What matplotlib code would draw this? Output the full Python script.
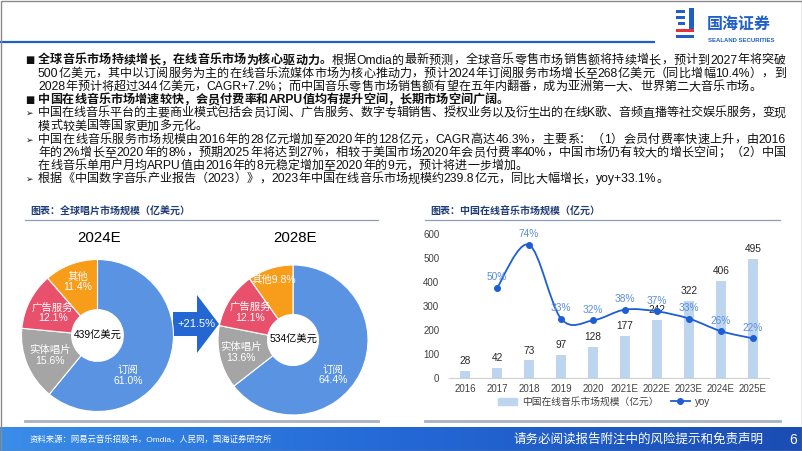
import matplotlib
matplotlib.use('Agg')
import matplotlib.pyplot as plt
import numpy as np
from matplotlib.path import Path
from matplotlib.patches import PathPatch, Polygon, Rectangle
from matplotlib.lines import Line2D
from matplotlib.colors import LinearSegmentedColormap

FAM = ['Liberation Sans', 'Noto Sans CJK SC', 'DejaVu Sans']
plt.rcParams['font.family'] = FAM

# ---------------- data ----------------
pie_labels = ['订阅', '实体唱片', '广告服务', '其他']
pie_2024 = [61.0, 15.6, 12.1, 11.4]
pie_2028 = [64.4, 13.6, 12.1, 9.8]
pie_years = ['2024E', '2028E']
pie_totals = ['439亿美元', '534亿美元']
growth_label = '+21.5%'

years = ['2016', '2017', '2018', '2019', '2020', '2021E', '2022E', '2023E', '2024E', '2025E']
market = [28, 42, 73, 97, 128, 177, 242, 322, 406, 495]
yoy = [None, 50, 74, 33, 32, 38, 37, 33, 26, 22]
yticks = [0, 100, 200, 300, 400, 500, 600]

title_left = '图表：全球唱片市场规模（亿美元）'
title_right = '图表：中国在线音乐市场规模（亿元）'
legend_labels = ['中国在线音乐市场规模（亿元）', 'yoy']

body_lines = [
    ('■', [('全球音乐市场持续增长，在线音乐市场为核心驱动力。', 'bold'),
           ('根据Omdia的最新预测，全球音乐零售市场销售额将持续增长，预计到2027年将突破', 'normal')], True),
    ('', [('500亿美元，其中以订阅服务为主的在线音乐流媒体市场为核心推动力，预计2024年订阅服务市场增长至268亿美元（同比增幅10.4%），到', 'normal')], True),
    ('', [('2028年预计将超过344亿美元，CAGR+7.2%；而中国音乐零售市场销售额有望在五年内翻番，成为亚洲第一大、世界第二大音乐市场。', 'normal')], False),
    ('■', [('中国在线音乐市场增速较快，会员付费率和ARPU值均有提升空间，长期市场空间广阔。', 'bold')], False),
    ('➢', [('中国在线音乐平台的主要商业模式包括会员订阅、广告服务、数字专辑销售、授权业务以及衍生出的在线K歌、音频直播等社交娱乐服务，变现', 'normal')], True),
    ('', [('模式较美国等国家更加多元化。', 'normal')], False),
    ('➢', [('中国在线音乐服务市场规模由2016年的28亿元增加至2020年的128亿元，CAGR高达46.3%，主要系：（1）会员付费率快速上升，由2016', 'normal')], True),
    ('', [('年的2%增长至2020年的8%，预期2025年将达到27%，相较于美国市场2020年会员付费率40%，中国市场仍有较大的增长空间；（2）中国', 'normal')], True),
    ('', [('在线音乐单用户月均ARPU值由2016年的8元稳定增加至2020年的9元，预计将进一步增加。', 'normal')], False),
    ('➢', [('根据《中国数字音乐产业报告（2023）》，2023年中国在线音乐市场规模约239.8亿元，同比大幅增长，yoy+33.1%。', 'normal')], False),
]

footer_left = '资料来源：网易云音乐招股书，Omdia，人民网，国海证券研究所'
footer_right = '请务必阅读报告附注中的风险提示和免责声明'
page_no = '6'

# ---------------- style ----------------
pie_colors = ['#5B93E3', '#A5A5A5', '#E9506B', '#F79D1A']
BLUE = '#1F5FC8'
NAVY = '#1F3C78'
BAR = '#BDD5EF'
LINE = '#1D5ED6'
YOYTXT = '#5A8DE0'

W, H = 802, 451
fig = plt.figure(figsize=(W / 100, H / 100), dpi=100)
bg = fig.add_axes([0, 0, 1, 1])
bg.set_xlim(0, W)
bg.set_ylim(H, 0)
bg.axis('off')


def px_axes(x0, y0, x1, y1):
    return fig.add_axes([x0 / W, 1 - y1 / H, (x1 - x0) / W, (y1 - y0) / H])


# header
bg.plot([0, 655], [42, 42], color=BLUE, lw=1.6, solid_capstyle='butt')
for (x, y, w, h, c) in [(676, 10, 9, 3, BLUE), (676, 16, 9, 3, BLUE), (678, 22, 7, 3, BLUE),
                        (689, 8, 4.5, 23, BLUE), (676, 29, 18, 3, '#E8303A'),
                        (676, 35, 18, 3, BLUE)]:
    bg.add_patch(Rectangle((x, y), w, h, color=c, lw=0))
bg.text(707, 24, '国海证券', fontsize=11.5, fontweight='bold', color=BLUE,
        ha='left', va='center', family=['Noto Sans CJK SC'])
bg.text(708, 40, 'SEALAND SECURITIES', fontsize=4.3, fontweight='bold', color=BLUE,
        ha='left', va='center')

# body text with justification
renderer = fig.canvas.get_renderer()
FS = 8.7
X0, X1 = 38, 786


def tokens(s):
    out = []
    buf = ''
    for ch in s:
        if ord(ch) < 128:
            buf += ch
        else:
            if buf:
                out.append(buf)
                buf = ''
            out.append(ch)
    if buf:
        out.append(buf)
    return out


y = 60.5
for bullet, segs, justify in body_lines:
    if bullet == '■':
        bg.text(29.5, y, bullet, fontsize=7.0, ha='center', va='center', color='#111111',
                family=['DejaVu Sans'])
    elif bullet:
        bg.text(29.5, y + 0.5, bullet, fontsize=6.5, ha='center', va='center', color='#111111',
                family=['DejaVu Sans'])
    items = []
    for s, wt in segs:
        for tk in tokens(s):
            t = bg.text(0, y, tk, fontsize=FS, fontweight=wt, ha='left', va='center',
                        color='#111111')
            wdt = t.get_window_extent(renderer).width
            items.append((t, wdt))
    total = sum(w for _, w in items)
    gap = (X1 - X0 - total) / (len(items) - 1) if justify and len(items) > 1 else 0.0
    x = X0
    for t, wdt in items:
        t.set_x(x)
        x += wdt + gap
    y += 13.2

# chart titles and frame lines
for tx, (lx0, lx1) in [(title_left, (25, 378)), (title_right, (425, 780))]:
    bg.text(lx0 + 5, 211.5, tx, fontsize=7.2, fontweight='bold', color=NAVY,
            ha='left', va='center')
    bg.plot([lx0, lx1], [220, 220], color='#8C9DB8', lw=0.9)
    bg.plot([lx0, lx1], [420.5, 420.5], color='#A8B2C4', lw=2.0)

# ---------------- donuts ----------------
label_shift = [[-33, 0, 0, 0], [-15, 0, 0, 0]]
label_r = [[0.66, 0.68, 0.66, 0.75], [0.71, 0.71, 0.68, 0.84]]
centers = [(97.5, 335.5, 76), (293, 340, 75)]
for k, vals in enumerate([pie_2024, pie_2028]):
    cx, cy, r = centers[k]
    ax = px_axes(cx - r, cy - r, cx + r, cy + r)
    ax.pie(vals, colors=pie_colors, startangle=90, counterclock=False, radius=1,
           wedgeprops=dict(width=0.66, edgecolor='white', linewidth=0.8))
    ax.set_xlim(-1, 1)
    ax.set_ylim(-1, 1)
    tot = sum(vals)
    start = 90.0
    for i, v in enumerate(vals):
        span = v / tot * 360
        mid = start - span / 2 + label_shift[k][i]
        start -= span
        rr = label_r[k][i]
        tx, ty = rr * np.cos(np.radians(mid)), rr * np.sin(np.radians(mid))
        if k == 1 and i == 3:
            s = f'{pie_labels[i]}{v:.1f}%'
        else:
            s = f'{pie_labels[i]}\n{v:.1f}%'
        ax.text(tx, ty, s, color='white', fontsize=7.5, ha='center', va='center',
                linespacing=1.05)
    ax.text(0, 0, pie_totals[k], fontsize=7.4, ha='center', va='center', color='black')
    bg.text(cx + 2, 238, pie_years[k], fontsize=10.8, ha='center', va='center', color='black')

# arrow
arrow = Polygon([(173, 312), (197, 312), (197, 295), (219, 324), (197, 353), (197, 336), (173, 336)],
                closed=True, facecolor='#2467D2', edgecolor='none', zorder=3)
bg.add_patch(arrow)
bg.text(196, 324, growth_label, fontsize=8, color='white', ha='center', va='center', zorder=4)

# ---------------- bar + line chart ----------------
ax = px_axes(449, 234, 769, 378)
xs = np.arange(len(years))
ax.bar(xs, market, width=0.31, color=BAR, zorder=2)
ax.set_xlim(-0.5, len(years) - 0.5)
ax.set_ylim(0, 600)
ax.set_yticks(yticks)
ax.set_xticks(xs)
ax.set_xticklabels(years)
ax.tick_params(axis='both', length=0, labelsize=7, colors='#404040')
ax.tick_params(axis='y', pad=7)
ax.tick_params(axis='x', pad=4)
for sp in ['top', 'right', 'left']:
    ax.spines[sp].set_visible(False)
ax.spines['bottom'].set_color('#D0D0D0')
ax.patch.set_alpha(0)
for xi, v in zip(xs, market):
    ax.annotate(str(v), (xi, v), xytext=(0, 3.5), textcoords='offset points',
                ha='center', va='bottom', fontsize=7.3, color='#262626')

ax2 = ax.twinx()
ax2.set_ylim(0, 80)
ax2.axis('off')
pts = [(xi, v) for xi, v in zip(xs, yoy) if v is not None]
P = np.array(pts, dtype=float)
verts = [P[0]]
codes = [Path.MOVETO]
n = len(P)
for i in range(n - 1):
    p_prev = P[i - 1] if i > 0 else P[i]
    p_next2 = P[i + 2] if i + 2 < n else P[i + 1]
    c1 = P[i] + (P[i + 1] - p_prev) / 6
    c2 = P[i + 1] - (p_next2 - P[i]) / 6
    verts += [c1, c2, P[i + 1]]
    codes += [Path.CURVE4] * 3
ax2.add_patch(PathPatch(Path(verts, codes), facecolor='none', edgecolor=LINE, lw=1.3, zorder=3))
ax2.plot(P[:, 0], P[:, 1], 'o', color=LINE, markersize=4, zorder=4)
for xi, v in pts:
    ax2.annotate(f'{v}%', (xi, v), xytext=(0, 4), textcoords='offset points',
                 ha='center', va='bottom', fontsize=7.3, color=YOYTXT)

handles = [Rectangle((0, 0), 1, 1, color=BAR),
           Line2D([0], [0], color=LINE, lw=1.3, marker='o', markersize=4)]
fig.legend(handles, legend_labels, loc='center', bbox_to_anchor=(604 / W, 1 - 402 / H),
           ncol=2, frameon=False, fontsize=7, handlelength=2.0, handleheight=0.8,
           columnspacing=1.2, handletextpad=0.5, labelcolor='#404040')

# ---------------- footer ----------------
cmap = LinearSegmentedColormap.from_list('ft', ['#3A8DE8', '#2468D6', '#1B4DB3'])
bg.imshow(np.linspace(0, 1, 256).reshape(1, -1), extent=[0, W, 451, 427], cmap=cmap,
          aspect='auto', zorder=1)
bg.text(30, 440, footer_left, fontsize=6, color='white', ha='left', va='center', zorder=2)
bg.text(513, 439.5, footer_right, fontsize=9, color='white', ha='left', va='center', zorder=2)
bg.text(793, 439.5, page_no, fontsize=10, color='white', ha='center', va='center', zorder=2)

bg.add_patch(Rectangle((0.5, 0.5), W - 1, H - 1, fill=False, edgecolor='#8A8A8A', lw=1, zorder=5))
bg.set_xlim(0, W)
bg.set_ylim(H, 0)

fig.savefig('out.png', dpi=100)
